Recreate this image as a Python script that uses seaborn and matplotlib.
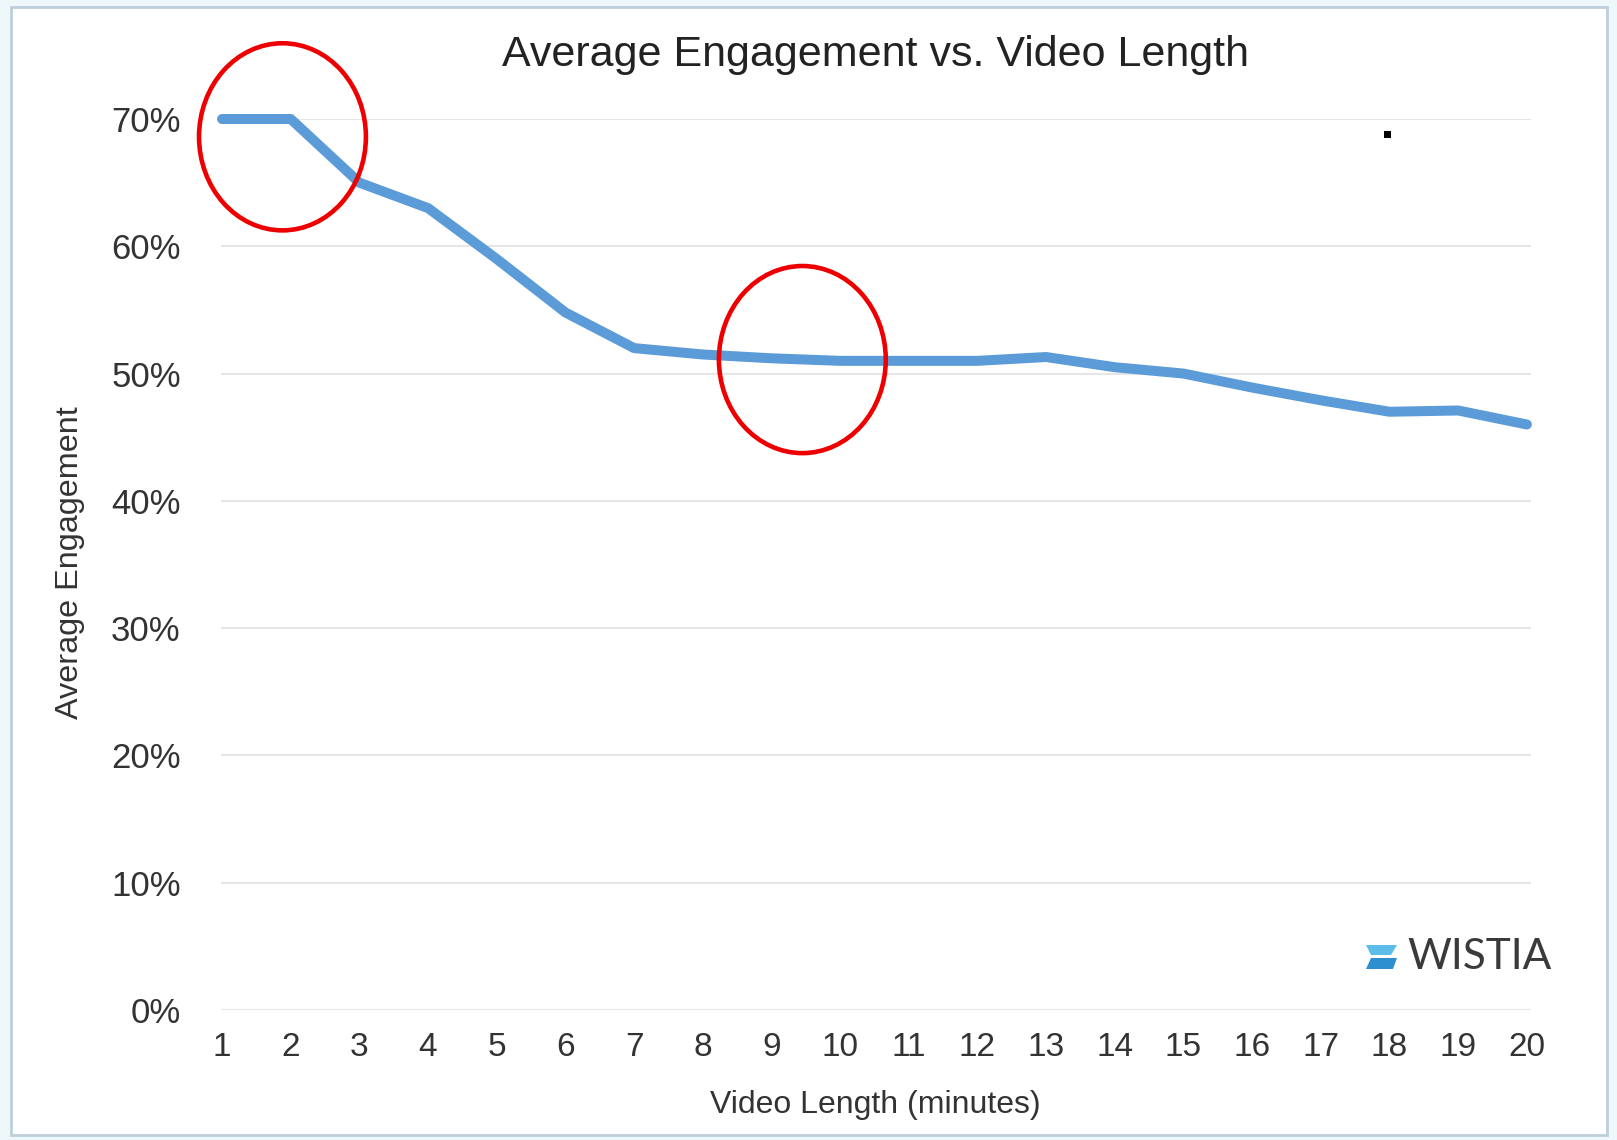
import matplotlib
matplotlib.use("Agg")
import matplotlib.pyplot as plt
import seaborn as sns
import pandas as pd
from matplotlib.patches import Ellipse, Rectangle, Polygon
from matplotlib.ticker import PercentFormatter

# data
minutes = list(range(1, 21))
engagement = [70, 70, 65, 63, 59, 54.8, 52, 51.5, 51.2, 51.0,
              51.0, 51.0, 51.3, 50.5, 50.0, 48.9, 47.9, 47.0, 47.1, 46.0]
y_ticks = [0, 10, 20, 30, 40, 50, 60, 70]

# highlighted spots (circled in red)
circle_x = [1.88, 9.45]
circle_y = [68.6, 51.1]

df = pd.DataFrame({"minutes": minutes, "engagement": engagement})

W, H = 1617, 1140


def fx(x):
    return x / W


def fy(y):
    return 1 - y / H


sns.set_style("white")
plt.rcParams['font.family'] = ['Liberation Sans', 'DejaVu Sans']

fig = plt.figure(figsize=(W / 100, H / 100), dpi=100)
fig.patch.set_facecolor('#eef8fb')

# outer frame of the screenshot
fig.patches.append(Rectangle((fx(11), fy(1135)), fx(1607) - fx(11), fy(7) - fy(1135),
                             transform=fig.transFigure, facecolor='white',
                             edgecolor='#bccfdb', linewidth=2, zorder=-1))

ax = fig.add_axes([fx(221), fy(1010), fx(1531) - fx(221), fy(119) - fy(1010)])
ax.set_facecolor('none')

sns.lineplot(data=df, x="minutes", y="engagement", ax=ax, color='#5b9bd8',
             linewidth=7.2, clip_on=False, solid_joinstyle='round', zorder=3)

ax.set_xlim(0.985, 20.06)
ax.set_ylim(0, 70)
ax.set_xticks(minutes)
ax.set_yticks(y_ticks)
ax.yaxis.set_major_formatter(PercentFormatter(decimals=0))
ax.grid(axis='y', color='#e6e6e6', linewidth=1.5)
ax.grid(axis='x', visible=False)
ax.set_axisbelow(True)
sns.despine(ax=ax, left=True, bottom=True)
ax.tick_params(axis='y', length=0, pad=29, labelsize=25, labelcolor='#333333')
ax.tick_params(axis='x', length=0, pad=16, labelsize=24, labelcolor='#333333')
ax.set_xlabel("")
ax.set_ylabel("")

for cx, cy in zip(circle_x, circle_y):
    ax.add_patch(Ellipse((cx, cy), 2.43, 14.7, fill=False, edgecolor='#ee0000',
                         linewidth=3.3, clip_on=False, zorder=4))

fig.text(fx(875), fy(55), "Average Engagement vs. Video Length", fontsize=31,
         color='#222222', ha='center', va='center')
fig.text(fx(875), fy(1105), "Video Length (minutes)", fontsize=23,
         color='#333333', ha='center', va='center')
fig.text(fx(70), fy(563), "Average Engagement", fontsize=23.3, rotation=90,
         color='#333333', ha='center', va='center')

# stray black dot
fig.patches.append(Rectangle((fx(1384), fy(138)), 7 / W, 7 / H,
                             transform=fig.transFigure, facecolor='black',
                             edgecolor='none'))

# WISTIA logo
fig.patches.append(Polygon([(fx(1366), fy(945)), (fx(1397), fy(945)),
                            (fx(1391), fy(955)), (fx(1371), fy(955))],
                           closed=True, transform=fig.transFigure,
                           facecolor='#5cbde9', edgecolor='none'))
fig.patches.append(Polygon([(fx(1371), fy(958)), (fx(1397), fy(958)),
                            (fx(1393), fy(969)), (fx(1366), fy(969))],
                           closed=True, transform=fig.transFigure,
                           facecolor='#2d8fd0', edgecolor='none'))
fig.text(fx(1480), fy(957), "WISTIA", fontsize=30.5, family='Lato',
         color='#3a3a3a', ha='center', va='center')

fig.savefig("out.png", dpi=100, facecolor=fig.get_facecolor())
